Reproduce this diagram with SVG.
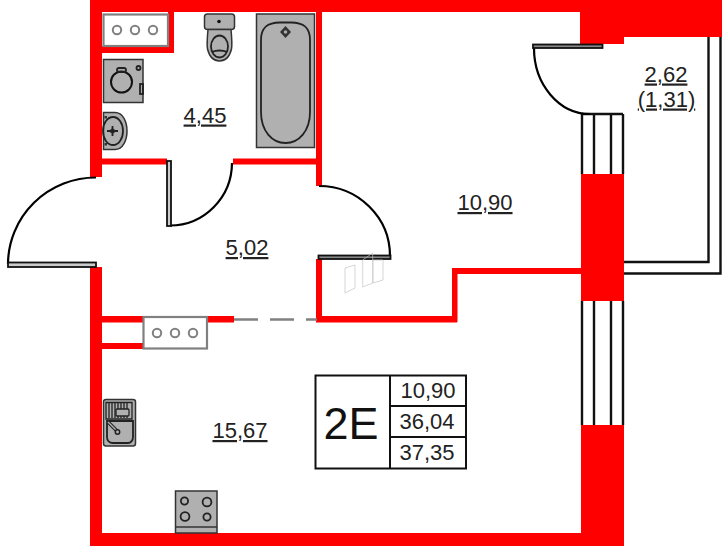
<svg xmlns="http://www.w3.org/2000/svg" width="728" height="546" viewBox="0 0 728 546">
<style>
.w{fill:#ff0000}
.t{font-family:"Liberation Sans",Arial,sans-serif;font-size:22px;fill:#222;text-anchor:middle}
.u{text-decoration:underline}
.l{fill:none;stroke:#111;stroke-width:2.4}
.a{fill:none;stroke:#000;stroke-width:2.2}
.leaf{fill:#ccc;stroke:#111;stroke-width:1.8}
.dk{fill:#888;stroke:#111;stroke-width:1.8}
.g{fill:#b0b0b0;stroke:#333;stroke-width:1.5}
.i{fill:none;stroke:#222;stroke-width:1.8}
.s{fill:#fff;stroke:#808080;stroke-width:2.2}
.r{fill:none;stroke:#808080;stroke-width:2}
.f{fill:none;stroke:#c4c4c4;stroke-width:.7}
</style>
<rect width="728" height="546" fill="#fff"/>
<g id="windows-balcony">
<path class="l" d="M582 114H623M582 114V174M594 114V174M611 114V174M623 114V174"/>
<path class="l" d="M582 301V425M594 301V425M611 301V425M623 301V425"/>
<path class="l" d="M708.500 37V262H624M720.500 37V273.500H624"/>
</g>
<g id="walls">
<rect class="w" x="90" y="0" width="490" height="12"/>
<rect class="w" x="580" y="0" width="142" height="37"/>
<rect class="w" x="580" y="37" width="44" height="7"/>
<rect class="w" x="90" y="0" width="12" height="177"/>
<rect class="w" x="90" y="267" width="12" height="279"/>
<rect class="w" x="90" y="533" width="534" height="13"/>
<rect class="w" x="581" y="174" width="43" height="127"/>
<rect class="w" x="581" y="425" width="43" height="121"/>
<rect class="w" x="168" y="12" width="6" height="41"/>
<rect class="w" x="102" y="46" width="72" height="7"/>
<rect class="w" x="102" y="158.500" width="65" height="6"/>
<rect class="w" x="233" y="158.500" width="85" height="6"/>
<rect class="w" x="316" y="12" width="6" height="174"/>
<rect class="w" x="316" y="259" width="6" height="63"/>
<rect class="w" x="316" y="316" width="141" height="6.500"/>
<rect class="w" x="452" y="268" width="5.500" height="54"/>
<rect class="w" x="452" y="268" width="130" height="6"/>
<rect class="w" x="102" y="316" width="42" height="6.500"/>
<rect class="w" x="102" y="343" width="42" height="6"/>
<rect class="w" x="207" y="316" width="27" height="6.500"/>
</g>
<g id="connectors">
<path d="M234 319.500H258M270 319.500H294M306 319.500H317" stroke="#808080" stroke-width="2.400" fill="none"/>
</g>
<g id="doors">
<path class="a" d="M96 177.500A88 87 0 0 0 8 264"/>
<rect class="leaf" x="8" y="262.500" width="88" height="4.500"/>
<path class="a" d="M232 163A62 63 0 0 1 170 225.500"/>
<rect class="leaf" x="167" y="161" width="4" height="65"/>
<path class="a" d="M319 186A71 70 0 0 1 390 256"/>
<rect class="dk" x="318.500" y="255.500" width="72" height="3.500"/>
<path class="a" d="M534 48A56 66 0 0 0 590 114"/>
<rect class="dk" x="533" y="44.500" width="69.500" height="3.500"/>
</g>
<g id="shaft-bath"><rect class="s" x="103.500" y="14.500" width="64.500" height="31.500"/>
<circle class="r" cx="117" cy="30" r="4.200"/><circle class="r" cx="135" cy="30" r="4.200"/><circle class="r" cx="153" cy="30" r="4.200"/></g>
<g id="shaft-kitchen"><rect class="s" x="143.500" y="317" width="63.500" height="31.500"/>
<circle class="r" cx="157" cy="333" r="4.200"/><circle class="r" cx="175" cy="333" r="4.200"/><circle class="r" cx="193" cy="333" r="4.200"/></g>
<g id="washer"><rect class="g" x="103.500" y="59.500" width="39.500" height="43"/>
<circle cx="121.500" cy="82" r="10.500" fill="none" stroke="#111" stroke-width="2"/>
<rect class="i" x="117" y="68" width="9" height="4" rx="2"/>
<circle class="i" cx="138.500" cy="68" r="2"/><rect class="i" x="140" y="84" width="3" height="10"/></g>
<g id="basin"><path class="g" d="M103.500 112.500H115C123 112.500 127 122 127 131S123 149.500 115 149.500H103.500Z"/>
<ellipse class="i" cx="113" cy="131" rx="10" ry="14"/>
<circle cx="112.500" cy="131" r="2.500" fill="#333"/><path class="i" d="M107 131H118M112.500 126V136"/>
<rect x="104.500" y="116" width="2.500" height="2.500" fill="#333"/><rect x="104.500" y="143" width="2.500" height="2.500" fill="#333"/></g>
<g id="toilet"><rect class="g" x="204.500" y="14" width="30" height="15.500" rx="3"/>
<circle cx="219" cy="21.500" r="1.800" fill="#111"/>
<path class="g" d="M208 29.500H231C232 40 232 46 231.500 49C229.500 57 225 61 219.500 61S209.500 57 207.500 49C207 46 207 40 208 29.500Z"/>
<ellipse class="i" cx="219.500" cy="46.500" rx="8.500" ry="11"/>
<path class="i" d="M212 52C216 50 223 50 227 52"/></g>
<g id="bath"><rect class="g" x="256.500" y="14" width="58" height="133.500"/>
<path class="i" d="M261 40C261 27 268 22.500 280 22.500H291C303 22.500 310 27 310 40V112C310 131 299 143 285.500 143S261 131 261 112Z"/>
<path d="M285.500 26L291 32L285.500 38L280 32Z" fill="#333"/><circle cx="285.500" cy="32" r="1.800" fill="#aaa"/></g>
<g id="sink"><rect class="g" x="103.500" y="399.500" width="32" height="46.500" rx="2.500"/>
<path d="M106 402.500H132V419H106ZM109 403V418M112 403V418M115 403V418M118 403V418M121 403V418M124 403V418M127 403V418" fill="none" stroke="#222" stroke-width="1.300"/>
<rect x="116" y="409" width="13" height="7" fill="#b0b0b0" stroke="#222" stroke-width="1.300" rx="1"/>
<path class="i" d="M107 421H133V437C133 440 131 443 128 443H113C109 443 107 440 107 437Z"/>
<path d="M108 422L117 431" stroke="#222" stroke-width="3.600" fill="none"/><path d="M108 422L117 431" stroke="#b0b0b0" stroke-width="1.400" fill="none"/>
<circle cx="117.500" cy="432" r="2.200" fill="#b0b0b0" stroke="#222" stroke-width="1.500"/></g>
<g id="stove"><rect class="g" x="175.500" y="491" width="41.500" height="42"/>
<path d="M175.500 527H217" stroke="#333" stroke-width="1.500"/>
<circle class="i" cx="184.500" cy="501" r="3.600"/><circle class="i" cx="207" cy="502" r="4.400"/><circle class="i" cx="185" cy="516.500" r="4.400"/><circle class="i" cx="207" cy="517" r="3.600"/></g>
<g id="ghost"><path class="f" d="M345 268L355 265V288L345 293ZM362.700 260L372.700 253V283L362.700 287ZM373 260H383V280L373 283Z"/></g>
<g id="legend">
<rect x="315.500" y="375.500" width="150.500" height="93" fill="#fff" stroke="#111" stroke-width="2"/>
<path d="M390 375.500V468.500M390 406H466M390 437H466" stroke="#111" stroke-width="2" fill="none"/>
<text x="351" y="439" font-family="Liberation Sans,Arial,sans-serif" font-size="45" text-anchor="middle" fill="#111">2E</text>
<text class="t" x="428" y="398">10,90</text>
<text class="t" x="427" y="429">36,04</text>
<text class="t" x="427" y="460">37,35</text>
</g>
<g id="labels">
<text class="t u" x="205" y="122.500">4,45</text>
<text class="t u" x="247" y="255">5,02</text>
<text class="t u" x="485" y="210">10,90</text>
<text class="t u" x="240" y="438">15,67</text>
<text class="t u" x="666" y="81.500">2,62</text>
<text class="t u" x="666.500" y="106.500">(1,31)</text>
</g>
</svg>
